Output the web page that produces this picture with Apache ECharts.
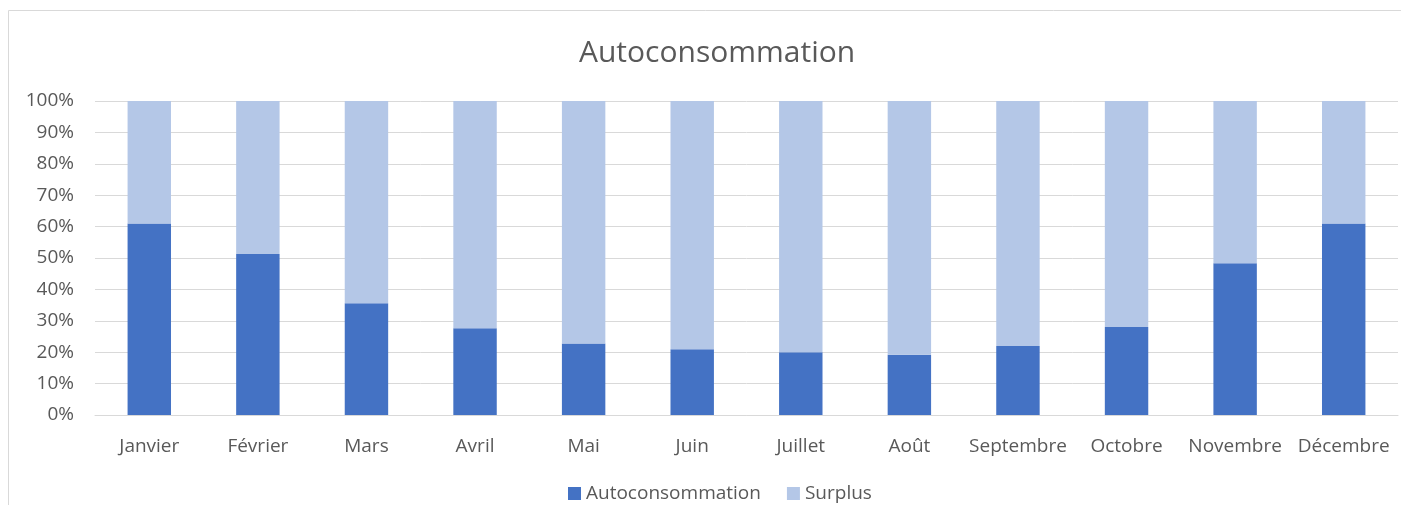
<!DOCTYPE html>
<html>
<head>
<meta charset="utf-8">
<script src="https://cdn.jsdelivr.net/npm/echarts@6/dist/echarts.min.js"></script>
<style>
  html, body { margin: 0; padding: 0; background: #fff; }
  #main { width: 1401px; height: 505px; }
</style>
</head>
<body>
<div id="main"></div>
<script>
// mois
var months = ["Janvier", "Février", "Mars", "Avril", "Mai", "Juin", "Juillet", "Août", "Septembre", "Octobre", "Novembre", "Décembre"];
// part autoconsommée (%)
var autoconso = [61.0, 51.3, 35.6, 27.6, 22.8, 20.9, 20.0, 19.2, 22.0, 28.0, 48.3, 61.0];
// part en surplus (%)
var surplus = [39.0, 48.7, 64.4, 72.4, 77.2, 79.1, 80.0, 80.8, 78.0, 72.0, 51.7, 39.0];

var font = "'Open Sans', 'Liberation Sans', sans-serif";
var txt = "#595959";

var myChart = echarts.init(document.getElementById("main"));
var option = {
  animation: false,
  textStyle: { fontFamily: font },
  graphic: [{
    type: "rect",
    shape: { x: 8.5, y: 10.5, width: 1400, height: 510 },
    style: { fill: null, stroke: "#d9d9d9", lineWidth: 1 }
  }],
  title: {
    text: "Autoconsommation",
    left: 574,
    top: 33,
    textStyle: { fontFamily: font, fontSize: 30, fontWeight: "normal", color: txt }
  },
  legend: {
    top: 479,
    left: 563,
    itemWidth: 13,
    itemHeight: 13,
    itemGap: 26,
    icon: "rect",
    textStyle: { fontFamily: font, fontSize: 19, color: txt },
    data: ["Autoconsommation", "Surplus"]
  },
  grid: { left: 95, right: 3, top: 101, bottom: 90, containLabel: false },
  xAxis: {
    type: "category",
    data: months,
    axisLine: { lineStyle: { color: "#d9d9d9" } },
    axisTick: { show: false },
    axisLabel: { fontFamily: font, fontSize: 19, color: txt, margin: 22, interval: 0 }
  },
  yAxis: {
    type: "value",
    min: 0,
    max: 100,
    interval: 10,
    axisLine: { show: false },
    axisTick: { show: false },
    splitLine: { lineStyle: { color: "#d9d9d9" } },
    axisLabel: { fontFamily: font, fontSize: 19, color: txt, margin: 21, formatter: "{value}%" }
  },
  series: [
    {
      name: "Autoconsommation",
      type: "bar",
      stack: "total",
      barWidth: "40%",
      itemStyle: { color: "#4472c4" },
      data: autoconso
    },
    {
      name: "Surplus",
      type: "bar",
      stack: "total",
      barWidth: "40%",
      itemStyle: { color: "#b4c7e7" },
      data: surplus
    }
  ]
};
myChart.setOption(option);
</script>
</body>
</html>
